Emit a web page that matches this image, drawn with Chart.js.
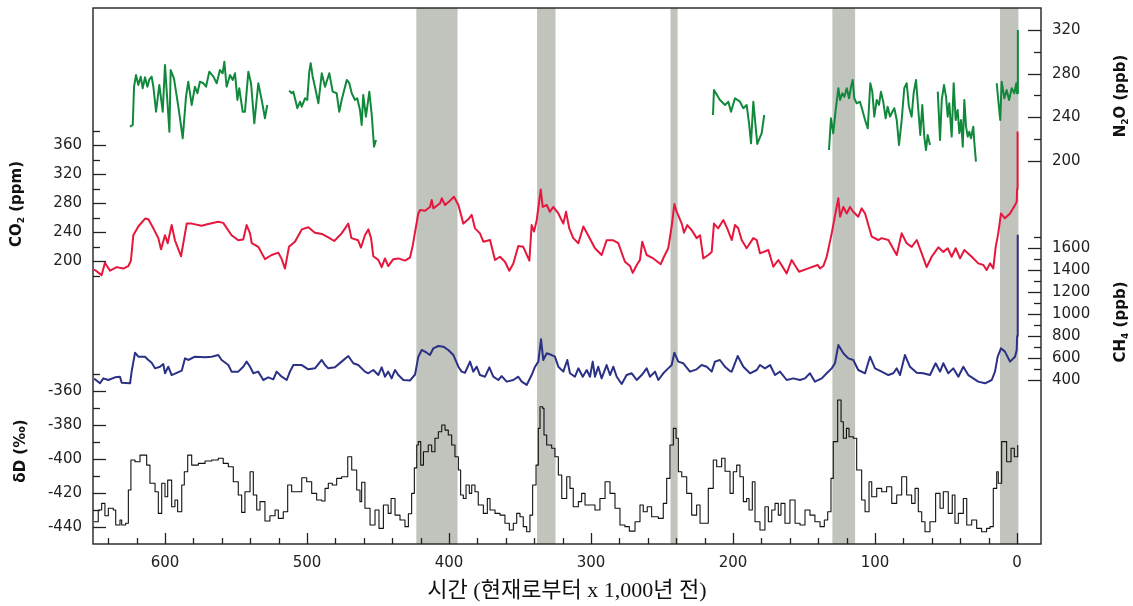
<!DOCTYPE html>
<html lang="ko">
<head>
<meta charset="utf-8">
<title>빙하 코어 기록</title>
<script src="https://cdn.jsdelivr.net/npm/chart.js@4.4.1/dist/chart.umd.min.js"></script>
<style>
  html, body { margin: 0; padding: 0; background: #fff; }
</style>
</head>
<body>
<canvas id="graficoNucleo" width="1133" height="606"></canvas>
<script>
// Etiquetas de los ejes
const edadTicks = [0, 100, 200, 300, 400, 500, 600];
const co2Ticks = [200, 240, 280, 320, 360];
const dDTicks = [-440, -420, -400, -380, -360];
const n2oTicks = [200, 240, 280, 320];
const ch4Ticks = [400, 600, 800, 1000, 1200, 1400, 1600];

// Interglaciales sombreados [inicio, fin] en miles de años
const interglaciales = [[423, 394], [338, 325], [244, 239], [130, 114], [12, -1]];

// Series: [edad (ka), valor]
const co2 = [[650,188],[649.3,188],[644.6,181],[642.3,198],[638.7,187],[634,192],[629.4,190],[625.8,193.5],[624,201],[622.3,236],[618.8,248],[614,259],[611.7,258],[608.2,245.5],[604.7,232],[602.8,216.5],[600,236],[598.1,225],[595.3,250],[593,229],[588.7,207],[584.7,252],[581.2,252],[574.2,249],[569.5,251.5],[562.5,254.6],[559,253],[553.1,236],[548.4,229],[544.9,230],[542.5,250],[540.1,238.6],[538.9,225],[534.3,220],[529.6,203],[524.9,208.7],[520.2,212],[517.8,203],[515.5,190],[512.7,220],[508.5,227],[503.7,244],[499.1,247],[494.4,239.5],[489.6,237.7],[485,233],[480.8,228],[475.6,238.6],[470.9,252],[468.7,232],[464,229],[462,219],[459.2,236],[456.8,244],[454.9,232],[453.3,207],[449.8,202],[447.4,192],[445.1,204],[442.8,193.5],[439.2,203],[435.7,204],[431,201],[427.5,205],[425.5,222],[423.5,245],[421.6,266],[420.4,270.8],[416.9,269.8],[413.4,275],[412.2,284.6],[411,273],[406.3,280],[405.1,287],[402.8,277.7],[399.3,283.6],[396.5,289],[393.4,277.7],[389.9,252],[386.4,258],[384,264],[381.7,245.5],[378.2,238.6],[375.8,227],[371.1,229.4],[367.6,201.8],[364.1,206.3],[360.6,199.4],[357.5,187],[354.7,197],[351.2,221],[347.7,220],[343.4,201],[341.8,250],[340.1,241],[338.2,257],[335.4,299],[334,275],[331.2,277.7],[328.9,268.4],[326.6,275],[323,266],[319.5,252],[317.6,268.4],[315.3,245.5],[312.5,232],[308.9,225],[305.4,248],[303,239.5],[297.2,218],[292.5,208.7],[289,229],[284.3,229],[280.8,225],[276.1,199.4],[272.5,193.5],[270.6,184],[267.8,195],[265.5,202],[263.9,227],[260.8,208.7],[256.1,204],[250.9,196],[248.6,206.3],[245.6,218],[243.2,248],[241.3,279],[239.7,268.4],[236.1,252],[234.5,239.5],[232.2,250],[229.1,243],[225.6,232],[223.2,236],[220.9,204],[217.4,208.7],[215,213],[213.4,252],[210.4,245.5],[206.8,257],[204,245],[200.9,229.4],[198.6,250],[196.3,245.5],[193.9,229.4],[190.4,218],[185.7,232],[183.3,229.4],[181,211],[175.1,215.6],[171.6,192.6],[168.1,201.8],[162.2,183.4],[158.7,201.8],[153.5,185.7],[147,190.3],[140.4,195],[138.7,190.3],[136.4,193.5],[134,206.3],[130.5,238.6],[127,275],[125.8,287],[124.6,261.5],[122.3,275],[119.9,266],[117.6,275],[115.3,268.4],[111.8,261.5],[109.4,273],[107,266],[102.3,234],[97.7,229.4],[95.3,232],[90.6,229.4],[84.7,208.7],[81.2,238.6],[77.7,225],[74.2,220],[70.6,229.4],[67.1,211],[63.6,192],[60.1,206.3],[55.4,219.3],[51.9,213],[48.8,218],[46,206.3],[43.2,218],[40.1,204],[37.1,215.6],[31.9,206.3],[27.3,197.2],[23.7,195],[21.4,188],[19,197.2],[16.7,190.3],[15,220],[13.2,238.6],[11.3,266],[8.5,259.3],[4.9,266],[1.4,277.7],[0.2,282],[-0.1,300],[-0.4,379]];

const ch4 = [[650,406],[649.3,406],[645.8,370],[643.4,415],[639.9,400],[635.2,424],[631.7,430],[630.5,376],[624.6,370],[623.5,476],[621.1,648],[618.8,612],[614.1,612],[611.7,582],[609.4,557],[607,506],[603.5,521],[601.2,545],[600,461],[597.7,521],[595.3,445],[588.2,485],[585.9,597],[583.6,582],[578.9,612],[571.8,606],[567.1,612],[562.5,627],[560.1,582],[555.4,536],[553.1,476],[548.4,476],[544.9,521],[542.5,567],[540.1,521],[537.8,461],[534.3,476],[530.8,400],[527.3,424],[523.7,406],[521.4,476],[517.8,430],[514.3,400],[512,476],[509.6,536],[503.7,536],[499.1,497],[494.4,506],[489.6,582],[487.3,536],[485,506],[480.3,515],[475.6,567],[470.9,618],[467.4,552],[463.9,536],[459.2,476],[456.8,461],[453.3,491],[449.8,445],[447.4,515],[445.1,430],[442.8,476],[440.4,415],[438,491],[435.7,445],[432.1,400],[427.5,395],[423.9,450],[421.6,612],[419.2,673],[415.7,648],[413.4,627],[411,688],[407.5,709],[404,703],[400.5,673],[396.9,627],[393.4,521],[391.1,476],[388.7,466],[385.2,567],[382.9,476],[380.5,521],[378.2,445],[374.6,430],[371.6,515],[368.8,430],[365.3,400],[362.9,436],[359.4,385],[354.7,400],[351.2,430],[348.8,385],[345.3,355],[341.8,445],[339.4,521],[337.1,567],[335.2,770],[333.6,582],[331.2,643],[327.7,627],[325.4,612],[323,521],[319.5,476],[316.7,582],[314.8,461],[311.3,430],[308.9,506],[305.8,430],[303,491],[300.7,430],[298.8,567],[297.2,430],[294.9,521],[292.5,415],[289,536],[286.6,445],[284.3,521],[281.9,430],[278.4,364],[274.9,445],[271.3,461],[267.8,400],[264.3,445],[260.8,506],[258.5,430],[254.9,476],[252.6,400],[249.1,461],[245.6,506],[243.2,536],[241.3,648],[238.5,567],[235,552],[230.3,476],[225.6,497],[222.1,536],[218.5,521],[215,476],[212.7,567],[209.2,582],[205.6,520],[202,480],[200.9,476],[196.7,618],[192.7,521],[188,461],[183.3,491],[181,536],[177.5,506],[173.9,536],[170.4,445],[166.9,476],[162.2,400],[157.5,415],[152.8,400],[149.3,415],[145.8,461],[142.3,385],[137.5,415],[134,461],[130.5,506],[128.2,552],[125.8,718],[122.3,643],[118.8,597],[115.3,582],[111.8,491],[107,461],[103.5,612],[100,506],[95.3,476],[90.6,445],[87.1,461],[84.7,506],[82.4,445],[78.9,627],[75.4,521],[70.6,466],[66,461],[61.3,445],[57.3,552],[54.2,476],[51.9,552],[48.4,461],[44.9,506],[41.3,430],[37.8,521],[34.3,445],[30.8,415],[27.3,385],[22.5,370],[17.8,400],[15.5,476],[13.6,612],[11.3,688],[8.5,658],[4.9,567],[1.4,612],[0.2,673],[-0.1,800],[-0.5,1720]];

const deuterio = [[650,-436.7],[649.3,-436.7],[647,-429.8],[644.6,-425.9],[642.3,-433.2],[639.9,-428.8],[636.4,-429.8],[634.7,-438.6],[631.7,-435.7],[630.5,-438.6],[627.7,-437.6],[625.8,-418],[624,-400.4],[621.1,-401.4],[617.6,-397.5],[615.3,-397.5],[612.9,-403.4],[610.6,-414.1],[607,-419.1],[604.7,-431.8],[602.3,-414.1],[600,-422],[598.1,-412.2],[595.3,-427.9],[593,-423.9],[591.1,-430.8],[588.2,-415.1],[586.4,-407.3],[584,-397.5],[581.2,-403.4],[576.5,-402.4],[571.8,-401],[567.1,-400.4],[562.5,-399.4],[559,-402.4],[555.4,-404.4],[551.9,-413.2],[548.4,-421],[546,-431.2],[543.7,-419.1],[540.1,-407.3],[537.8,-421],[535.4,-429.8],[533.1,-424.9],[529.6,-436.3],[526.1,-433.2],[522.5,-429.8],[520.2,-434.7],[516.7,-430.8],[513.6,-415.1],[510.8,-419.1],[507.3,-419.1],[503.7,-410.8],[500.2,-413.2],[496.7,-420],[493.2,-423.9],[489.6,-424.5],[487.3,-417.1],[485,-414.1],[482.2,-415.1],[479.1,-411.2],[475.6,-410.2],[471.3,-398.5],[468.5,-406.3],[465,-418],[462.7,-424.9],[461.5,-413.5],[459.2,-428.8],[455.6,-438.6],[452.1,-429.8],[449.3,-440.6],[446.2,-426.9],[442.8,-431.8],[440.8,-423],[438,-432.8],[434.5,-435.7],[431,-439.6],[428.6,-432],[426.3,-420],[424.4,-405],[422.7,-391.6],[421.6,-389.6],[419.9,-403.4],[418,-395.5],[414.6,-391.6],[412.2,-395.5],[409.9,-387.6],[407.5,-383.8],[405.1,-379.8],[402.8,-382.8],[400.5,-385.7],[398.1,-391.6],[395.8,-398.5],[393.4,-406.3],[391.8,-421],[389.9,-423],[388,-415.1],[385.7,-420],[384,-415.1],[381.7,-419.1],[379.4,-426.9],[375.8,-431.8],[373,-423],[371.1,-429.8],[367.6,-431.8],[364.1,-432.8],[360.6,-437.6],[357.5,-441.6],[354.7,-437.6],[352.3,-431.8],[350,-433.8],[347.7,-439.6],[345.3,-442.6],[343,-432.8],[341.1,-415.1],[338.7,-403.4],[337.1,-381.8],[335.9,-369.1],[334,-370],[333.1,-385.7],[331.2,-391.6],[327.7,-393.5],[325.4,-398.5],[323,-409.2],[320.6,-423],[317.1,-410.2],[314.8,-417.1],[312.5,-427.9],[308.9,-424.9],[306.6,-420],[304.2,-426.9],[300.7,-426.9],[297.2,-429.8],[293.7,-423],[290.1,-413.2],[286.6,-420],[283.1,-428.8],[279.6,-438.6],[276.1,-439.6],[273,-442.2],[269,-436.7],[265.5,-426.9],[263.2,-430.8],[260.4,-427.9],[257.3,-433.8],[252.6,-434.7],[249.1,-425.9],[246.7,-411.2],[244.4,-391.6],[242,-381.8],[240.1,-387.6],[238.5,-407.3],[236.1,-410.2],[232.6,-420],[229.1,-432.8],[225.6,-426.9],[223.2,-437.6],[220.9,-437.6],[217.4,-417.1],[213.9,-400.4],[211.5,-404.4],[208,-399.4],[205.6,-407],[202.1,-420],[199.8,-407.3],[197.4,-403.4],[195.1,-410.2],[192.7,-424.9],[190.4,-423],[188.7,-429.8],[186.4,-413.2],[184.5,-436.7],[181,-441.6],[177.5,-427.9],[175.1,-436.7],[172.7,-429.8],[170.4,-425.9],[168.1,-432.8],[166.2,-425.9],[163.4,-437.6],[159.9,-423.9],[156.3,-437.6],[152.8,-438.6],[149.3,-429.8],[145.8,-432.8],[142.3,-436.7],[138.7,-439.6],[135.7,-435.7],[133.3,-430.8],[131,-411.2],[129.4,-389.6],[126.3,-365.1],[123.9,-377.9],[122.3,-387.6],[120.1,-381.8],[118.3,-386.7],[115.3,-387.6],[112.9,-406.3],[109.4,-423.9],[107,-430.8],[104.2,-413.2],[102.3,-422],[98.8,-417.1],[95.3,-419.1],[91.8,-416.1],[88.2,-425.9],[84.7,-421],[81.2,-410.2],[77.7,-421],[74.2,-425.9],[71.8,-417.1],[69.5,-430.8],[67.1,-436.7],[64.8,-442.6],[61.3,-436.7],[57.3,-420],[54.2,-428.8],[51.9,-419.1],[48.4,-431.8],[45.6,-421],[43.7,-437.6],[41.3,-431.8],[37.8,-423],[35.4,-438.6],[31.9,-435.7],[28.4,-440.6],[24.9,-442.6],[21.4,-440.6],[19,-439.6],[16.7,-417.1],[14.3,-407.3],[13.2,-414.1],[10.8,-389.6],[7.3,-401.4],[4.2,-393.5],[1.9,-398.5],[-0.5,-391.6]];

// N2O tiene huecos (null) entre tramos
const n2o = [[624.6,231.4],[622.7,233],[621.8,268],[620.4,278.8],[618.8,269.6],[617.1,277.2],[615.7,266.6],[614.1,276.6],[612.4,268],[611,274.8],[609.4,277.2],[608.2,268],[606.3,245.1],[604,269.6],[601.6,245.1],[600,287.9],[596.9,226.8],[596,283.3],[593.7,275.7],[590.6,249.7],[587.5,220.8],[585.2,258.9],[583.6,272.6],[581.2,251.3],[578.9,268],[577.2,262],[575.4,272.6],[573,271.2],[571.1,268],[568.8,281.8],[565.9,277.2],[563.6,271.2],[561.3,283.3],[559.4,280.3],[558.2,290.9],[556.6,268],[554.2,278.8],[552.3,274.2],[550.7,280.3],[549,255.9],[547.7,266.6],[545.3,245.1],[543.7,245.1],[541.3,281.8],[539.4,271.2],[537.1,234.5],[534.3,271.2],[531.9,255.9],[529.6,239.1],[528,251.3],
  [520,null],
  [512.5,264.4],[510.8,262],[509.6,263.5],[508.5,257.4],[506.8,248.3],[504.9,254.3],[503.7,249.7],[501.4,257.4],[499.8,255.9],[498.4,281.8],[497.4,289.5],[496,277.2],[494.4,268],[492,252.8],[489.6,280.3],[487.3,268],[484.3,280.3],[481.9,263.5],[479.1,262],[477.3,245.1],[475.6,255.9],[473.2,268],[472,274.2],[470.2,271.2],[468.5,262],[466.2,255.9],[464.6,257.4],[462.7,246.7],[461.5,233],[460.4,260.4],[458.5,240.6],[456.1,263.5],[454.4,242.1],[452.8,213.1],[451.4,219.2],
  [300,null],
  [214.1,242.1],[213.4,265],[209.2,255.9],[205.6,251.3],[203.3,254.3],[201.4,245.1],[198.6,257.4],[195.1,254.3],[192.7,248.3],[190.4,251.3],[188.7,234.5],[187.3,216.2],[185.7,254.3],[184.5,237.5],[182.9,215.6],[179.8,225.4],[178,242.1],
  [155,null],
  [132.4,210],[131,239.1],[129.4,225.4],[127.7,246.7],[125.8,266.6],[124.6,255.9],[123,262],[121.6,258.9],[119.9,266.6],[118.3,257.4],[116.9,268],[115.7,274.2],[114.6,257.4],[112.9,252.8],[110.6,254.3],[108.9,246.7],[107,237.5],[105.1,229.9],[103.3,271.2],[101.9,263.5],[100.5,240.6],[98.8,255.9],[97.2,251.3],[95.8,263.5],[94.2,254.3],[92.5,239.1],[91.1,249.7],[89.4,240.6],[87.8,245.1],[86.4,248.3],[84.7,237.5],[83.1,214.7],[81.2,237.5],[79.4,266.6],[77.7,271.2],[76.1,249.7],[74.2,240.6],[72.8,262],[71.1,274.2],[69.5,246.7],[68.1,223.8],[66.7,251.3],[65.3,222.3],[64.1,210],[62.9,223.8],[61.3,214.7],
  [58,null],
  [55.8,263.5],[54.2,219.2],[53,255.9],[51.4,269.6],[50,258.9],[48.8,240.6],[47.7,252.8],[46,222.3],[44.6,271.2],[43.2,237.5],[41.8,246.7],[40.6,225.4],[39.4,237.5],[38.2,213.1],[37.1,255.9],[35.9,231.4],[34.7,222.3],[33.6,226.8],[32.4,220.8],[30.8,231.4],[30.1,217.7],[28.9,199.4],
  [20,null],
  [14.3,271.2],[13.2,255.9],[11.8,237.5],[10.8,272.6],[8.9,257.4],[7.3,265],[5.6,255.9],[3.7,266.6],[1.9,262],[0.5,271.2],[0,262],[-0.6,320]];

const FUENTE = '"DejaVu Sans", "Liberation Sans", Arial, sans-serif';
const COLOR_TEXTO = '#222';

function aPuntos(serie) {
    return serie.map(([x, y]) => ({ x: x, y: y }));
}

function fijarTicks(valores) {
    return function (escala) {
        escala.ticks = valores.map(v => ({ value: v }));
    };
}

// Eje y visible con etiquetas propias de Chart.js
function escalaY(posicion, min, max, valores, ancho) {
    return {
        type: 'linear',
        position: posicion,
        min: min,
        max: max,
        grid: { display: false, drawTicks: false },
        border: { display: false },
        afterBuildTicks: fijarTicks(valores),
        afterFit: function (escala) {
            escala.width = ancho;
            escala.paddingTop = 0;
            escala.paddingBottom = 0;
        },
        ticks: {
            padding: 11,
            color: COLOR_TEXTO,
            font: { family: FUENTE, size: 15, lineHeight: 1 },
            callback: v => String(v)
        }
    };
}

// Eje y oculto que comparte lado con otro; sus etiquetas se pintan en el plugin
function escalaOculta(posicion, min, max) {
    return { type: 'linear', position: posicion, min: min, max: max, display: false };
}

// Texto vertical con subíndices: partes = [[texto, esSubindice], ...]
function tituloVertical(ctx, x, y, partes, tam) {
    const normal = `bold ${tam}px ${FUENTE}`;
    const sub = `bold ${Math.round(tam * 0.6)}px ${FUENTE}`;
    ctx.save();
    ctx.translate(x, y);
    ctx.rotate(-Math.PI / 2);
    ctx.fillStyle = '#111';
    ctx.textBaseline = 'middle';
    ctx.textAlign = 'left';
    let total = 0;
    partes.forEach(([t, s]) => { ctx.font = s ? sub : normal; total += ctx.measureText(t).width; });
    let cx = -total / 2;
    partes.forEach(([t, s]) => {
        ctx.font = s ? sub : normal;
        ctx.fillText(t, cx, s ? tam * 0.32 : 0);
        cx += ctx.measureText(t).width;
    });
    ctx.restore();
}

function marcasY(ctx, escala, desde, hasta, paso, mayores, x0, dir) {
    for (let v = desde; v <= hasta; v += paso) {
        const y = Math.round(escala.getPixelForValue(v)) + 0.5;
        const largo = mayores.includes(v) ? 13 : 7;
        ctx.beginPath();
        ctx.moveTo(x0, y);
        ctx.lineTo(x0 + dir * largo, y);
        ctx.stroke();
    }
}

function etiquetasY(ctx, escala, valores, x, alineacion) {
    ctx.save();
    ctx.font = `15px ${FUENTE}`;
    ctx.fillStyle = COLOR_TEXTO;
    ctx.textAlign = alineacion;
    ctx.textBaseline = 'middle';
    valores.forEach(v => ctx.fillText(String(v), x, escala.getPixelForValue(v)));
    ctx.restore();
}

const decoracion = {
    id: 'decoracion',
    beforeDatasetsDraw(chart) {
        const { ctx, chartArea: a, scales } = chart;
        ctx.save();
        ctx.fillStyle = '#c1c3bd';
        interglaciales.forEach(([ini, fin]) => {
            const x1 = scales.x.getPixelForValue(ini);
            const x2 = scales.x.getPixelForValue(fin);
            ctx.fillRect(x1, a.top, x2 - x1, a.bottom - a.top);
        });
        ctx.restore();
    },
    afterDatasetsDraw(chart) {
        const { ctx, chartArea: a, scales } = chart;
        ctx.save();
        ctx.strokeStyle = '#222';
        ctx.lineWidth = 1.3;

        // marcas del eje x hacia dentro
        for (let v = 0; v <= 640; v += 20) {
            const x = Math.round(scales.x.getPixelForValue(v)) + 0.5;
            const largo = v % 100 === 0 ? 11 : 6;
            ctx.beginPath();
            ctx.moveTo(x, a.bottom);
            ctx.lineTo(x, a.bottom - largo);
            ctx.stroke();
        }
        marcasY(ctx, scales.yCO2, 180, 380, 20, co2Ticks, a.left, 1);
        marcasY(ctx, scales.yDD, -440, -350, 10, dDTicks, a.left, 1);
        marcasY(ctx, scales.yN2O, 200, 320, 20, n2oTicks, a.right, -1);
        marcasY(ctx, scales.yCH4, 400, 1700, 100, ch4Ticks, a.right, -1);

        // marco
        ctx.lineWidth = 1.4;
        ctx.strokeRect(a.left, a.top, a.right - a.left, a.bottom - a.top);
        ctx.restore();

        etiquetasY(ctx, scales.yDD, dDTicks, a.left - 11, 'right');
        etiquetasY(ctx, scales.yCH4, ch4Ticks, a.right + 11, 'left');

        tituloVertical(ctx, 17, 204, [['CO', false], ['2', true], [' (ppm)', false]], 15);
        tituloVertical(ctx, 21, 451, [['δD (‰)', false]], 15);
        tituloVertical(ctx, 1121, 96, [['N', false], ['2', true], ['O (ppb)', false]], 15);
        tituloVertical(ctx, 1121, 322, [['CH', false], ['4', true], [' (ppb)', false]], 15);
    }
};

function serieLinea(etiqueta, datos, eje, color, grosor, escalonada) {
    return {
        label: etiqueta,
        data: aPuntos(datos),
        yAxisID: eje,
        borderColor: color,
        borderWidth: grosor,
        borderJoinStyle: 'round',
        pointRadius: 0,
        fill: false,
        tension: 0,
        spanGaps: false,
        stepped: escalonada
    };
}

const ctx = document.getElementById('graficoNucleo').getContext('2d');

new Chart(ctx, {
    type: 'line',
    data: {
        datasets: [
            serieLinea('N2O', n2o, 'yN2O', '#11893c', 2, false),
            serieLinea('CO2', co2, 'yCO2', '#e6173c', 2, false),
            serieLinea('CH4', ch4, 'yCH4', '#2a3186', 2, false),
            serieLinea('δD', deuterio, 'yDD', '#111111', 1.1, true)
        ]
    },
    options: {
        responsive: false,
        animation: false,
        layout: { padding: { top: 8, left: 0, right: 0, bottom: 0 } },
        plugins: {
            legend: { display: false },
            tooltip: { enabled: false }
        },
        scales: {
            x: {
                type: 'linear',
                position: 'bottom',
                reverse: true,
                min: -16.9,
                max: 650.7,
                grid: { display: false, drawTicks: false },
                border: { display: false },
                afterBuildTicks: fijarTicks(edadTicks),
                afterFit: function (escala) { escala.height = 62; },
                ticks: {
                    padding: 10,
                    maxRotation: 0,
                    autoSkip: false,
                    color: COLOR_TEXTO,
                    font: { family: FUENTE, size: 15 },
                    callback: v => String(v)
                },
                title: {
                    display: true,
                    text: '시간 (현재로부터 x 1,000년 전)',
                    color: '#111',
                    font: { family: '"Liberation Serif", "Noto Sans CJK KR", serif', size: 22 },
                    padding: { top: 0, bottom: 2 }
                }
            },
            yCO2: escalaY('left', -189.9, 549.4, co2Ticks, 93),
            yDD: escalaOculta('left', -449.8, -134.5),
            yN2O: escalaY('right', -150.8, 340.1, n2oTicks, 92),
            yCH4: escalaOculta('right', -1090.9, 3781.8)
        }
    },
    plugins: [decoracion]
});
</script>
</body>
</html>
